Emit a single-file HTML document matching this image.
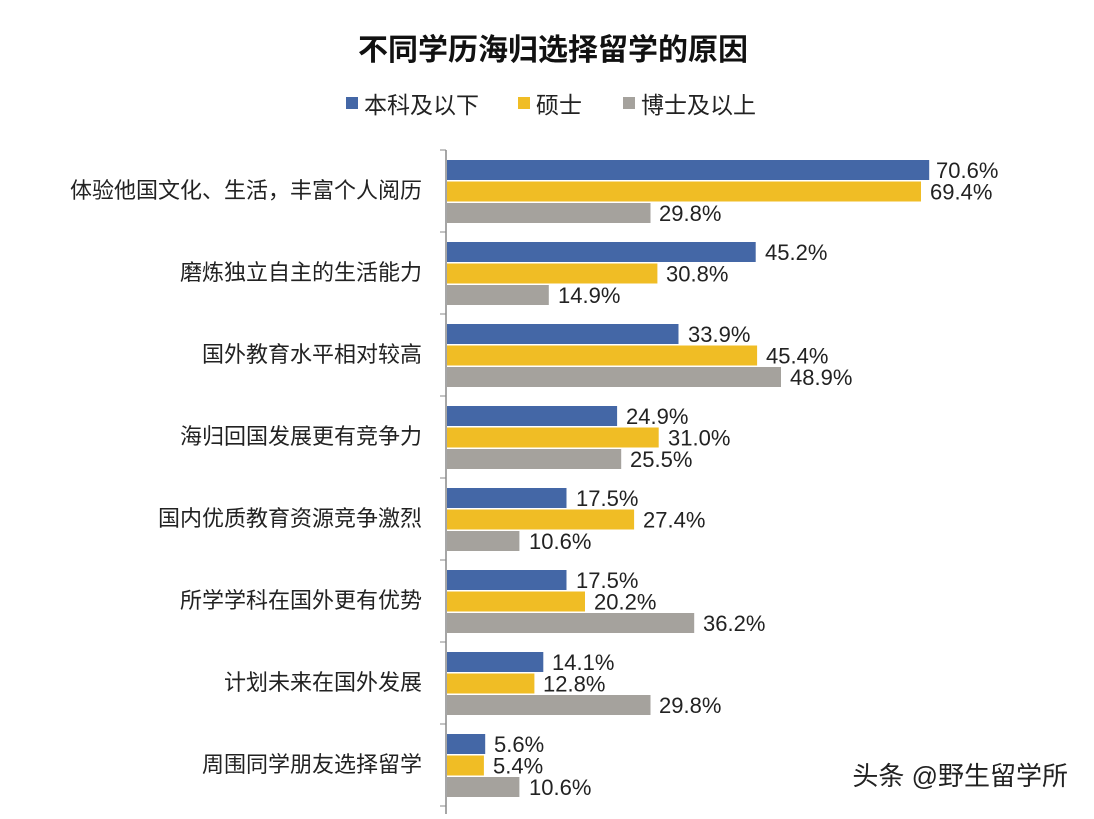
<!DOCTYPE html>
<html><head><meta charset="utf-8"><style>
body{margin:0;background:#fff;}
svg text{font-family:"Liberation Sans","Noto Sans CJK SC",sans-serif;fill:#222;}
.b{fill:#4467a6}.y{fill:#f0bd25}.g{fill:#a5a29d}
.v{font-size:22px}.c{font-size:22px;text-anchor:end}
</style></head><body>
<svg width="1094" height="814" viewBox="0 0 1094 814" xmlns="http://www.w3.org/2000/svg">
<rect width="1094" height="814" fill="#fff"/>
<text x="553" y="60" text-anchor="middle" font-size="30" font-weight="bold" style="fill:#111">不同学历海归选择留学的原因</text>
<rect x="346" y="97" width="12" height="12" fill="#4467a6"/><text x="364" y="113" font-size="23">本科及以下</text>
<rect x="518" y="97" width="12" height="12" fill="#f0bd25"/><text x="536" y="113" font-size="23">硕士</text>
<rect x="623" y="97" width="12" height="12" fill="#a5a29d"/><text x="641" y="113" font-size="23">博士及以上</text>
<line x1="446" y1="150" x2="446" y2="814" stroke="#888" stroke-width="1.5"/>
<g stroke="#888">
<line x1="440" y1="150" x2="446" y2="150"/><line x1="440" y1="232" x2="446" y2="232"/><line x1="440" y1="314" x2="446" y2="314"/><line x1="440" y1="396" x2="446" y2="396"/><line x1="440" y1="478" x2="446" y2="478"/><line x1="440" y1="560" x2="446" y2="560"/><line x1="440" y1="642" x2="446" y2="642"/><line x1="440" y1="724" x2="446" y2="724"/><line x1="440" y1="806" x2="446" y2="806"/>
</g>

<text class="c" x="422" y="198">体验他国文化、生活，丰富个人阅历</text>
<rect class="b" x="447" y="160" width="482.2" height="20"/><text class="v" x="936" y="178">70.6%</text>
<rect class="y" x="447" y="181.5" width="474.0" height="20"/><text class="v" x="930" y="199.5">69.4%</text>
<rect class="g" x="447" y="203" width="203.5" height="20"/><text class="v" x="659" y="221">29.8%</text>

<text class="c" x="422" y="280">磨炼独立自主的生活能力</text>
<rect class="b" x="447" y="242" width="308.7" height="20"/><text class="v" x="765" y="260">45.2%</text>
<rect class="y" x="447" y="263.5" width="210.4" height="20"/><text class="v" x="666" y="281.5">30.8%</text>
<rect class="g" x="447" y="285" width="101.8" height="20"/><text class="v" x="558" y="303">14.9%</text>

<text class="c" x="422" y="362">国外教育水平相对较高</text>
<rect class="b" x="447" y="324" width="231.5" height="20"/><text class="v" x="688" y="342">33.9%</text>
<rect class="y" x="447" y="345.5" width="310.1" height="20"/><text class="v" x="766" y="363.5">45.4%</text>
<rect class="g" x="447" y="367" width="334.0" height="20"/><text class="v" x="790" y="385">48.9%</text>

<text class="c" x="422" y="444">海归回国发展更有竞争力</text>
<rect class="b" x="447" y="406" width="170.1" height="20"/><text class="v" x="626" y="424">24.9%</text>
<rect class="y" x="447" y="427.5" width="211.7" height="20"/><text class="v" x="668" y="445.5">31.0%</text>
<rect class="g" x="447" y="449" width="174.2" height="20"/><text class="v" x="630" y="467">25.5%</text>

<text class="c" x="422" y="526">国内优质教育资源竞争激烈</text>
<rect class="b" x="447" y="488" width="119.5" height="20"/><text class="v" x="576" y="506">17.5%</text>
<rect class="y" x="447" y="509.5" width="187.1" height="20"/><text class="v" x="643" y="527.5">27.4%</text>
<rect class="g" x="447" y="531" width="72.4" height="20"/><text class="v" x="529" y="549">10.6%</text>

<text class="c" x="422" y="608">所学学科在国外更有优势</text>
<rect class="b" x="447" y="570" width="119.5" height="20"/><text class="v" x="576" y="588">17.5%</text>
<rect class="y" x="447" y="591.5" width="138.0" height="20"/><text class="v" x="594" y="609.5">20.2%</text>
<rect class="g" x="447" y="613" width="247.2" height="20"/><text class="v" x="703" y="631">36.2%</text>

<text class="c" x="422" y="690">计划未来在国外发展</text>
<rect class="b" x="447" y="652" width="96.3" height="20"/><text class="v" x="552" y="670">14.1%</text>
<rect class="y" x="447" y="673.5" width="87.4" height="20"/><text class="v" x="543" y="691.5">12.8%</text>
<rect class="g" x="447" y="695" width="203.5" height="20"/><text class="v" x="659" y="713">29.8%</text>

<text class="c" x="422" y="772">周围同学朋友选择留学</text>
<rect class="b" x="447" y="734" width="38.2" height="20"/><text class="v" x="494" y="752">5.6%</text>
<rect class="y" x="447" y="755.5" width="36.9" height="20"/><text class="v" x="493" y="773.5">5.4%</text>
<rect class="g" x="447" y="777" width="72.4" height="20"/><text class="v" x="529" y="795">10.6%</text>

<text x="1068" y="785" text-anchor="end" font-size="26" style="fill:#222">头条 @野生留学所</text>
</svg>
</body></html>
